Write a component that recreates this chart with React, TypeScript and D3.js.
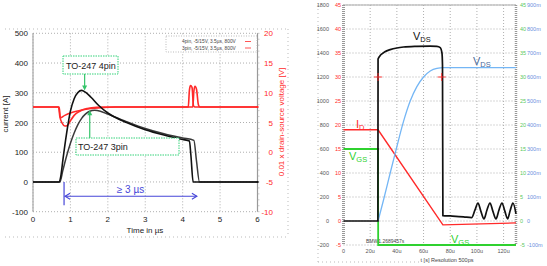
import * as d3 from "d3";

const W = 547;
const H = 266;
const FONT = "'Liberation Sans', Arial, sans-serif";

// ── Left panel: switching transient, time in µs ─────────────────────────────
const timeTicks = [0, 1, 2, 3, 4, 5, 6];
const currentTicks = [-100, 0, 100, 200, 300, 400, 500];
const voltTicks = [-10, -5, 0, 5, 10, 15, 20];

// drain current [A]
const current4pin: [number, number][] = [
  [0, 0], [0.7, 0], [0.75, 25], [0.8, 75], [0.9, 165], [1.0, 238], [1.1, 280],
  [1.2, 301], [1.3, 308], [1.4, 302], [1.55, 285], [1.75, 258], [2.0, 232],
  [2.5, 200], [3.0, 176], [3.5, 158], [4.0, 143], [4.18, 138], [4.22, 90],
  [4.28, 0], [6, 0],
];
const current3pin: [number, number][] = [
  [0, 0], [0.72, 0], [0.8, 40], [0.9, 88], [1.0, 130], [1.1, 165], [1.2, 193],
  [1.3, 214], [1.4, 228], [1.5, 237], [1.65, 241], [1.8, 238], [2.0, 228],
  [2.5, 203], [3.0, 180], [3.5, 162], [4.0, 148], [4.3, 140], [4.37, 70],
  [4.45, 0], [6, 0],
];
// 0.01 x drain-source voltage [V]
const volt4pin: [number, number][] = [
  [0, 7.6], [0.68, 7.6], [0.72, 5.9], [0.78, 4.9], [0.85, 4.4], [0.92, 4.5],
  [1.0, 5.3], [1.1, 6.2], [1.25, 6.9], [1.45, 7.35], [1.7, 7.55], [2.2, 7.6],
  [4.15, 7.6], [4.18, 10.4], [4.21, 11.2], [4.25, 10.9], [4.29, 7.8], [4.33, 7.6],
  [6, 7.6],
];
const volt3pin: [number, number][] = [
  [0, 7.6], [0.7, 7.6], [0.73, 5.8], [0.85, 6.2], [1.0, 6.6], [1.2, 6.95],
  [1.5, 7.3], [1.8, 7.5], [2.2, 7.6], [4.27, 7.6], [4.3, 10.3], [4.33, 11.1],
  [4.37, 10.6], [4.42, 8.0], [4.46, 7.6], [6, 7.6],
];
const legendRows = ["4pin, -5/15V, 3.5µs, 800V", "3pin, -5/15V, 3.5µs, 800V"];

// ── Right panel: scope capture, time in µs ──────────────────────────────────
const scopeTimeTicks = [0, 20, 40, 60, 80, 100, 120];
const scopeTimeLabels = ["0", "20u", "40u", "60u", "80u", "100u", "120u"];
const vdsTicks = [-200, 0, 200, 400, 600, 800, 1000, 1200, 1400, 1600, 1800];
const idTicks = [-5, 0, 5, 10, 15, 20, 25, 30, 35, 40, 45];
const vgsTicks = [-5, 0, 5, 10, 15, 20, 25, 30, 35, 40, 45];
const probeLabels = ["-100m", "0", "100m", "200m", "300m", "400m", "500m", "600m", "700m", "800m", "900m"];

const vdsScope: [number, number][] = [
  [0, 0], [25.8, 0], [25.9, 1350], [28, 1385], [31, 1410], [35, 1428],
  [40, 1442], [45, 1450], [55, 1456], [65, 1458], [70, 1455], [72.5, 1445],
  [73.8, 1400], [74.2, 1300], [74.5, 45], [80, 42], [90, 35], [96, 28],
  [98.5, 90], [100.8, 150], [103, 80], [105.3, 18], [107.5, 90], [109.8, 150],
  [112, 80], [114.3, 18], [116.5, 90], [118.8, 150], [121, 80], [123, 18],
  [125, 90], [127, 150], [129.3, 60],
];
const vdsProbe: [number, number][] = [
  [25.9, 0], [30, 175], [35, 400], [40, 620], [45, 830], [50, 1000],
  [55, 1120], [60, 1200], [65, 1250], [70, 1272], [75, 1278], [129.3, 1278],
];
const idScope: [number, number][] = [[0, 19], [25.9, 19], [74.5, -0.8], [129.3, -0.4]];
const vgsScope: [number, number][] = [[0, 15], [25.9, 15], [26, -5], [129.3, -5]];
const cursorTimes = [25.9, 73.6];
const cursorLevel = 1200;

const RED = "#ff2a2a";
const GREEN = "#2fd12f";
const BLUE_TRACE = "#74b6f5";
const GRID = "#9a9a9a";

function Sub({ x, y, main, sub, color, size }: { x: number; y: number; main: string; sub: string; color: string; size: number }) {
  return (
    <text x={x} y={y} fill={color} fontSize={size} fontFamily={FONT}>
      {main}
      <tspan fontSize={size * 0.68} dy={2}>{sub}</tspan>
    </text>
  );
}

function LeftPanel() {
  const x = d3.scaleLinear().domain([0, 6]).range([33, 257.5]);
  const yA = d3.scaleLinear().domain([-100, 500]).range([211.7, 33.3]);
  const yV = d3.scaleLinear().domain([-10, 20]).range([211.7, 33.3]);
  const [x0, x1] = x.range();
  const [yb, yt] = yA.range();

  const lineA = d3.line<[number, number]>().x((d) => x(d[0])).y((d) => yA(d[1])).curve(d3.curveMonotoneX);
  const lineV = d3.line<[number, number]>().x((d) => x(d[0])).y((d) => yV(d[1])).curve(d3.curveMonotoneX);

  // annotation anchors from the current peaks
  const peak4 = current4pin.reduce((a, b) => (b[1] > a[1] ? b : a));
  const peak3 = current3pin.reduce((a, b) => (b[1] > a[1] ? b : a));
  const p4x = x(peak4[0]) + 3, p4y = yA(peak4[1]);
  const p3x = x(peak3[0]) - 5, p3y = yA(peak3[1]);

  const spanL = x(0.83), spanR = x(4.38), spanY = yA(-48);

  return (
    <g fontFamily={FONT}>
      {/* outer frame */}
      <line x1={5} x2={288} y1={29} y2={29} stroke="#bbb" strokeDasharray="1,3" />
      <line x1={5} x2={288} y1={237} y2={237} stroke="#bbb" strokeDasharray="1,3" />
      <line x1={288} x2={288} y1={29} y2={237} stroke="#bbb" strokeDasharray="1,3" />

      {/* grid */}
      {currentTicks.map((t) => (
        <line key={"gy" + t} x1={x0} x2={x1} y1={yA(t)} y2={yA(t)} stroke={GRID} strokeDasharray="1,2" strokeWidth={0.8} />
      ))}
      {timeTicks.map((t) => (
        <line key={"gx" + t} x1={x(t)} x2={x(t)} y1={yt} y2={yb} stroke={GRID} strokeDasharray="1,2" strokeWidth={0.8} />
      ))}
      <line x1={x0} x2={x0} y1={yt} y2={yb} stroke="#999" strokeWidth={1} />
      <line x1={x1} x2={x1} y1={yt} y2={yb} stroke="#999" strokeWidth={1.2} />
      {d3.range(-10, 20.01, 1).map((v) => (
        <line key={"mt" + v} x1={x1} x2={x1 + 2} y1={yV(v)} y2={yV(v)} stroke="#aaa" strokeWidth={0.6} />
      ))}
      <line x1={x1 - 1} x2={x1 + 1} y1={yV(7.6)} y2={yV(7.6)} stroke={RED} strokeWidth={2} />
      <line x1={x1 - 1} x2={x1 + 1} y1={yA(0)} y2={yA(0)} stroke="#000" strokeWidth={2} />

      {/* tick labels */}
      {currentTicks.map((t) => (
        <text key={"la" + t} x={x0 - 5} y={yA(t) + 3} textAnchor="end" fontSize={8} fill="#222">{t}</text>
      ))}
      {voltTicks.map((t) => (
        <text key={"lv" + t} x={273} y={yV(t) + 3} textAnchor="end" fontSize={8} fill={RED}>{t}</text>
      ))}
      {timeTicks.map((t) => (
        <text key={"lt" + t} x={x(t)} y={222} textAnchor="middle" fontSize={8} fill="#222">{t}</text>
      ))}
      <text transform="translate(8,114) rotate(-90)" textAnchor="middle" fontSize={8} fill="#222">current [A]</text>
      <text transform="translate(284,122) rotate(-90)" textAnchor="middle" fontSize={8} fill={RED}>0.01 x drain-source voltage [V]</text>
      <text x={145} y={233} textAnchor="middle" fontSize={8} fill="#222">Time in µs</text>

      {/* traces */}
      <path d={lineV(volt3pin) ?? ""} fill="none" stroke={RED} strokeWidth={1.6} />
      <path d={lineV(volt4pin) ?? ""} fill="none" stroke={RED} strokeWidth={1.6} />
      <path d={lineA(current3pin) ?? ""} fill="none" stroke="#3a3a3a" strokeWidth={1.5} />
      <path d={lineA(current4pin) ?? ""} fill="none" stroke="#111" strokeWidth={1.6} />

      {/* legend */}
      <rect x={166} y={36} width={91} height={16} fill="#fff" stroke="#aaa" strokeDasharray="1,1.5" strokeWidth={0.8} />
      {legendRows.map((r, i) => (
        <g key={r}>
          <text x={182} y={43 + i * 6.5} fontSize={4.8} fill="#444">{r}</text>
          <line x1={245} x2={251} y1={41.5 + i * 6.5} y2={41.5 + i * 6.5} stroke={RED} strokeWidth={0.8} />
        </g>
      ))}

      {/* TO-247 4pin callout */}
      <rect x={63} y={56} width={55} height={18} fill="#fff" stroke="#35d27a" strokeDasharray="1.5,1" strokeWidth={1} />
      <text x={66} y={68.5} fontSize={9} fill="#222">TO-247 4pin</text>
      <line x1={p4x} x2={p4x} y1={74} y2={p4y - 4} stroke="#35c46a" strokeWidth={1.2} />
      <path d={`M${p4x - 2.5},${p4y - 5}L${p4x + 2.5},${p4y - 5}L${p4x},${p4y}Z`} fill="#35c46a" />

      {/* TO-247 3pin callout */}
      <rect x={76} y={138} width={103} height={17} fill="#fff" stroke="#35d27a" strokeDasharray="1.5,1" strokeWidth={1} />
      <text x={78} y={150} fontSize={9} fill="#222">TO-247 3pin</text>
      <line x1={p3x} x2={p3x} y1={138} y2={p3y + 4} stroke="#35c46a" strokeWidth={1.2} />
      <path d={`M${p3x - 2.5},${p3y + 5}L${p3x + 2.5},${p3y + 5}L${p3x},${p3y}Z`} fill="#35c46a" />

      {/* pulse length span */}
      <line x1={spanL} x2={spanL} y1={yA(0)} y2={yA(-78)} stroke="#4646d8" strokeWidth={1.2} />
      <line x1={spanL + 1} x2={spanR} y1={spanY} y2={spanY} stroke="#4646d8" strokeWidth={1.2} />
      <path d={`M${spanL + 6},${spanY - 3}L${spanL + 1},${spanY}L${spanL + 6},${spanY + 3}`} fill="none" stroke="#4646d8" strokeWidth={1.1} />
      <path d={`M${spanR - 5},${spanY - 3}L${spanR},${spanY}L${spanR - 5},${spanY + 3}`} fill="none" stroke="#4646d8" strokeWidth={1.1} />
      <text x={(spanL + spanR) / 2} y={spanY - 3} textAnchor="middle" fontSize={10} fill="#4646d8">≥ 3 µs</text>
    </g>
  );
}

function RightPanel() {
  const x = d3.scaleLinear().domain([0, 129.3]).range([343.5, 516]);
  const yV = d3.scaleLinear().domain([-200, 1800]).range([245, 5]);
  const yI = d3.scaleLinear().domain([-5, 45]).range([245, 5]);
  const yG = d3.scaleLinear().domain([-5, 45]).range([245, 5]);
  const [x0, x1] = x.range();
  const [yb, yt] = yV.range();

  const lineV = d3.line<[number, number]>().x((d) => x(d[0])).y((d) => yV(d[1])).curve(d3.curveMonotoneX);
  const lineI = d3.line<[number, number]>().x((d) => x(d[0])).y((d) => yI(d[1]));
  const lineG = d3.line<[number, number]>().x((d) => x(d[0])).y((d) => yG(d[1]));

  return (
    <g fontFamily={FONT}>
      <line x1={318} x2={318} y1={5} y2={262} stroke="#bbb" strokeDasharray="1,3" />
      <line x1={318} x2={420} y1={262} y2={262} stroke="#bbb" strokeDasharray="1,3" />

      {/* grid */}
      {vdsTicks.map((t) => (
        <line key={"gy" + t} x1={x0} x2={x1} y1={yV(t)} y2={yV(t)} stroke={GRID} strokeDasharray="1,2" strokeWidth={0.8} />
      ))}
      {scopeTimeTicks.slice(1).map((t) => (
        <line key={"gx" + t} x1={x(t)} x2={x(t)} y1={yt} y2={yb} stroke={GRID} strokeDasharray="1,2" strokeWidth={0.8} />
      ))}
      <line x1={x0} x2={x1} y1={yt} y2={yt} stroke="#aaa" strokeWidth={2} strokeDasharray="1,1" />
      <line x1={x0} x2={x0} y1={yt} y2={yb} stroke="#999" strokeWidth={3} strokeDasharray="1,1" />
      <line x1={x1} x2={x1} y1={yt} y2={yb} stroke="#999" strokeWidth={2.5} strokeDasharray="1,1" />

      {/* axis labels */}
      {vdsTicks.map((t) => (
        <text key={"lv" + t} x={329} y={yV(t) + 2} textAnchor="end" fontSize={5.5} fill="#555">{t}</text>
      ))}
      {idTicks.map((t) => (
        <text key={"li" + t} x={341} y={yI(t) + 2} textAnchor="end" fontSize={5.5} fill={RED}>{t}</text>
      ))}
      {vgsTicks.map((t) => (
        <text key={"lg" + t} x={520} y={yG(t) + 2} fontSize={5.5} fill="#5ac85a">{t}</text>
      ))}
      {probeLabels.map((t, i) => (
        <text key={"lp" + t} x={527} y={yG(vgsTicks[i]) + 2} fontSize={5.5} fill="#6a8fe0">{t}</text>
      ))}
      {scopeTimeTicks.map((t, i) => (
        <text key={"lt" + t} x={x(t)} y={253} textAnchor="middle" fontSize={5.5} fill="#555">{scopeTimeLabels[i]}</text>
      ))}
      <text x={447} y={262} textAnchor="middle" fontSize={5.5} fill="#444">t [s]   Resolution 500ps</text>
      <text x={366} y={243} fontSize={5} fill="#444">BMW1.2689457s</text>

      {/* traces */}
      <path d={lineG(vgsScope) ?? ""} fill="none" stroke={GREEN} strokeWidth={1.8} />
      <path d={lineI(idScope) ?? ""} fill="none" stroke={RED} strokeWidth={1.4} />
      <path d={lineV(vdsProbe) ?? ""} fill="none" stroke={BLUE_TRACE} strokeWidth={1.3} />
      <path d={lineV(vdsScope) ?? ""} fill="none" stroke="#111" strokeWidth={1.7} />

      {cursorTimes.map((t) => (
        <g key={"c" + t} stroke={RED} strokeWidth={0.9}>
          <line x1={x(t) - 4} x2={x(t) + 4} y1={yV(cursorLevel)} y2={yV(cursorLevel)} />
          <line x1={x(t)} x2={x(t)} y1={yV(cursorLevel) - 4} y2={yV(cursorLevel) + 4} />
        </g>
      ))}

      <Sub x={413} y={40} main="V" sub="DS" color="#111" size={11} />
      <Sub x={473} y={65} main="V" sub="DS" color="#4a6a9a" size={11} />
      <Sub x={356} y={128} main="I" sub="D" color={RED} size={11} />
      <Sub x={349} y={160} main="V" sub="GS" color={GREEN} size={11} />
      <Sub x={451} y={243} main="V" sub="GS" color={GREEN} size={11} />
    </g>
  );
}

export default function App() {
  return (
    <svg width={W} height={H} style={{ position: "absolute", left: 0, top: 0, background: "#fff" }}>
      <LeftPanel />
      <RightPanel />
    </svg>
  );
}
